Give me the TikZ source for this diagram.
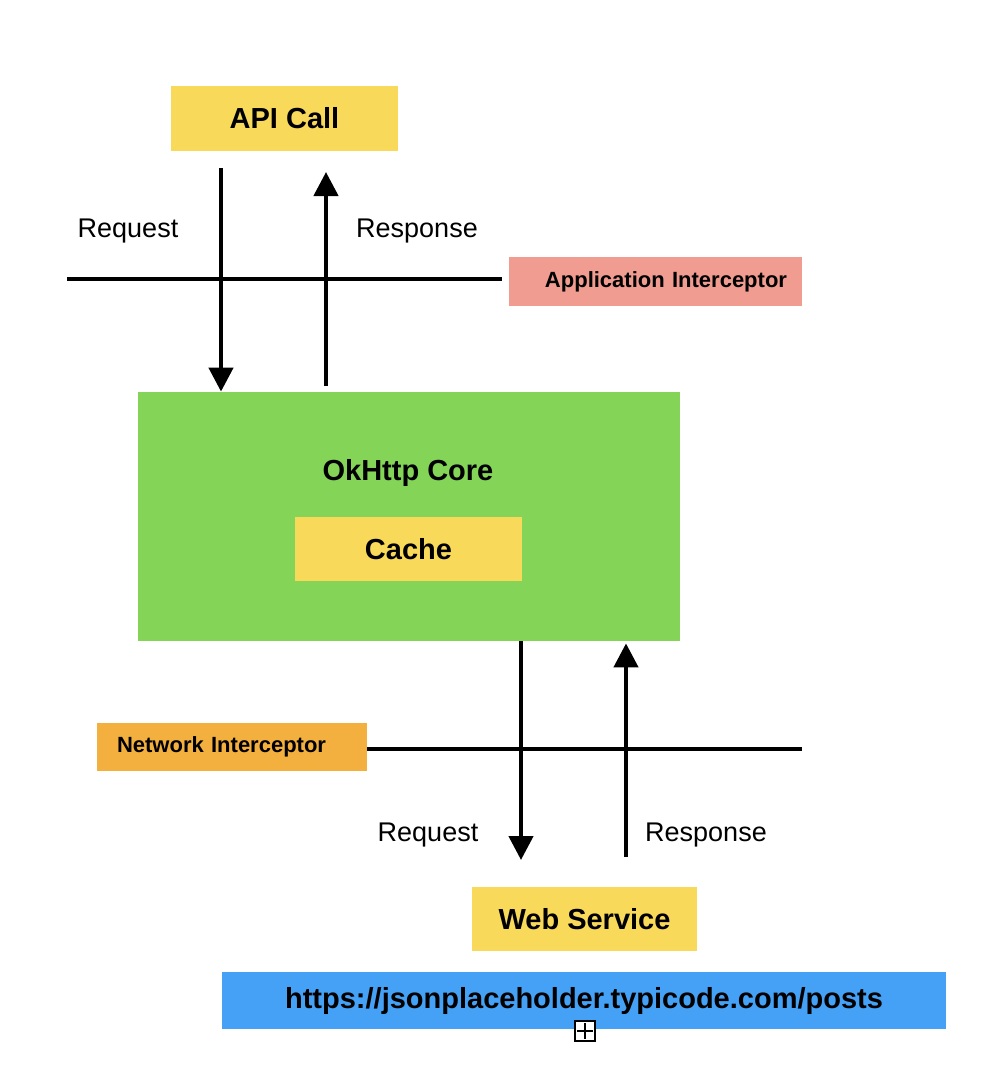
\documentclass[tikz,border=0pt]{standalone}
\usepackage{fontspec}
\setmainfont{Liberation Sans}
\usetikzlibrary{arrows.meta,calc,positioning}
\definecolor{boxyellow}{HTML}{F9D95A}
\definecolor{boxsalmon}{HTML}{F19C91}
\definecolor{boxgreen}{HTML}{83D457}
\definecolor{boxorange}{HTML}{F3B03E}
\definecolor{boxblue}{HTML}{44A1F6}
\tikzset{
  box/.style={fill=#1, inner sep=0pt, font=\fontsize{14.5}{17}\selectfont\bfseries},
  icpt/.style={fill=#1, inner ysep=0pt, font=\fontsize{11}{13}\selectfont\bfseries},
  flow/.style={line width=2.2pt, -{Triangle[width=12pt,length=12pt]}},
  bar/.style={line width=2.2pt},
  lbl/.style={font=\fontsize{13.5}{16}\selectfont},
}
\begin{document}
\begin{tikzpicture}[x=0.5pt,y=-0.5pt]
\useasboundingbox (0,0) rectangle (990,1088);
\node[box=boxyellow, minimum width=113.5pt, minimum height=32.5pt] (api) at (284.5,118.5) {API Call};
\node[icpt=boxsalmon, text width=131.5pt, inner xsep=7.5pt, minimum height=24.5pt, align=right] (appint) at (655.5,281.5) {Application Interceptor};
\node[box=boxgreen, minimum width=271pt, minimum height=124.5pt] (core) at (409,516.5) {};
\node[font=\fontsize{14.5}{17}\selectfont\bfseries] (coretitle) at (408,473) {OkHttp Core};
\node[box=boxyellow, minimum width=113.5pt, minimum height=32pt] (cache) at (408.5,549) {Cache};
\node[icpt=boxorange, text width=115pt, inner xsep=10pt, minimum height=24pt, align=left] (netint) at (232,747) {Network Interceptor};
\node[box=boxyellow, minimum width=112.5pt, minimum height=32pt] (web) at (584.5,919) {Web Service};
\node[box=boxblue, minimum width=362pt, minimum height=28.5pt] (url) at (584,1000.5) {\raisebox{-1.5pt}{https://jsonplaceholder.typicode.com/posts}};
\node[draw, fill=white, line width=0.7pt, minimum size=10pt, inner sep=0pt,
  path picture={\draw[line width=0.6pt] ([yshift=-1pt]path picture bounding box.north) -- ([yshift=1pt]path picture bounding box.south)
    ([xshift=1pt]path picture bounding box.west) -- ([xshift=-1pt]path picture bounding box.east);}] (plus) at (585,1031) {};
% interceptor lines
\coordinate (ln1) at (67,279);
\coordinate (ln2) at (802,749);
\draw[bar] (ln1) -- ([xshift=-3.5pt]appint.west |- ln1);
\draw[bar] (netint.east |- ln2) -- (ln2);
% request / response
\coordinate (rq1) at (221,168);
\coordinate (rs1) at (326,172);
\coordinate (rq2) at (521,860);
\coordinate (rs2) at (626,857);
\draw[flow] (rq1) -- (rq1 |- core.north);
\draw[flow] ([yshift=3pt]rs1 |- core.north) -- (rs1);
\draw[flow] (rq2 |- core.south) -- (rq2);
\draw[flow] (rs2) -- ([yshift=-1pt]rs2 |- core.south);
\node[lbl] (req1) at (128,231) {Request};
\node[lbl] (res1) at (417,231) {Response};
\node[lbl] (req2) at (428,835) {Request};
\node[lbl] (res2) at (706,835) {Response};
\end{tikzpicture}
\end{document}
